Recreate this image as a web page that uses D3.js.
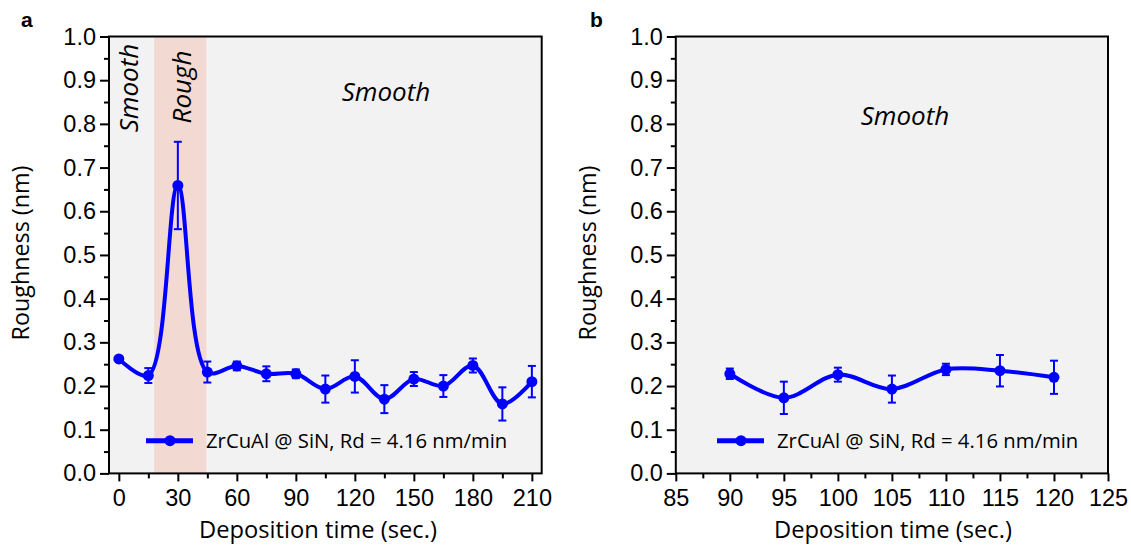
<!DOCTYPE html>
<html>
<head>
<meta charset="utf-8">
<script src="https://cdn.jsdelivr.net/npm/d3@7"></script>
<style>
  body { margin: 0; background: #fff; }
  .tick text { font-family: "Liberation Sans", Arial, sans-serif; }
</style>
</head>
<body>
<div id="chart"></div>
<script>
// panel a
var timeA = [0, 15, 30, 45, 60, 75, 90, 105, 120, 135, 150, 165, 180, 195, 210];
var roughA = [0.262, 0.224, 0.659, 0.232, 0.246, 0.228, 0.228, 0.193, 0.222, 0.170, 0.216, 0.200, 0.247, 0.159, 0.210];
var errA = [0, 0.017, 0.100, 0.024, 0.010, 0.017, 0.010, 0.031, 0.037, 0.032, 0.016, 0.025, 0.016, 0.038, 0.036];
var xTicksA = [0, 30, 60, 90, 120, 150, 180, 210];
var roughBand = [18, 44.5];

// panel b
var timeB = [90, 95, 100, 105, 110, 115, 120];
var roughB = [0.228, 0.173, 0.226, 0.193, 0.238, 0.235, 0.220];
var errB = [0.012, 0.037, 0.016, 0.031, 0.013, 0.036, 0.038];
var xTicksB = [85, 90, 95, 100, 105, 110, 115, 120, 125];

var yTicks = [0, 0.1, 0.2, 0.3, 0.4, 0.5, 0.6, 0.7, 0.8, 0.9, 1.0];
var seriesName = "ZrCuAl @ SiN, Rd = 4.16 nm/min";

var blue = "#0000ff",
    textFont = "'Open Sans', 'Noto Sans', sans-serif";

var svg = d3.select("#chart").append("svg")
    .attr("width", 1131)
    .attr("height", 545);

function panel(opt) {
    var x = d3.scaleLinear().domain(opt.xDomain).range([opt.left, opt.right]);
    var y = d3.scaleLinear().domain([0, 1]).range([473.4, 36.5]);
    var g = svg.append("g");

    g.append("rect")
        .attr("x", opt.left).attr("y", y(1))
        .attr("width", opt.right - opt.left).attr("height", y(0) - y(1))
        .attr("fill", "#f2f2f2");

    if (opt.band) {
        g.append("rect")
            .attr("x", x(opt.band[0])).attr("y", y(1))
            .attr("width", x(opt.band[1]) - x(opt.band[0]))
            .attr("height", y(0) - y(1))
            .attr("fill", "#f2d9d2");
    }

    // minor ticks
    g.append("g")
        .attr("transform", "translate(" + opt.left + ",0)")
        .call(d3.axisLeft(y).tickValues(d3.range(0.05, 1, 0.1)).tickSize(5).tickFormat(""))
        .call(function(a) { a.select(".domain").remove(); a.selectAll("line").attr("stroke-width", 2); });
    g.append("g")
        .attr("transform", "translate(0," + y(0) + ")")
        .call(d3.axisBottom(x).tickValues(opt.xMinor).tickSize(5).tickFormat(""))
        .call(function(a) { a.select(".domain").remove(); a.selectAll("line").attr("stroke-width", 2); });

    // major ticks
    g.append("g")
        .attr("transform", "translate(" + opt.left + ",0)")
        .call(d3.axisLeft(y).tickValues(yTicks).tickSize(9).tickPadding(4).tickFormat(d3.format(".1f")))
        .call(function(a) {
            a.select(".domain").remove();
            a.selectAll("line").attr("stroke-width", 2);
            a.selectAll("text").attr("font-size", 23.5).attr("fill", "#000");
        });
    g.append("g")
        .attr("transform", "translate(0," + y(0) + ")")
        .call(d3.axisBottom(x).tickValues(opt.xTicks).tickSize(8).tickPadding(8))
        .call(function(a) {
            a.select(".domain").remove();
            a.selectAll("line").attr("stroke-width", 2);
            a.selectAll("text").attr("font-size", 23.5).attr("fill", "#000");
        });

    g.append("rect")
        .attr("x", opt.left).attr("y", y(1))
        .attr("width", opt.right - opt.left).attr("height", y(0) - y(1))
        .attr("fill", "none").attr("stroke", "#000").attr("stroke-width", 2);

    var data = opt.t.map(function(t, i) { return {t: t, v: opt.v[i], e: opt.e[i]}; });

    var line = d3.line()
        .curve(d3.curveCatmullRom)
        .x(function(d) { return x(d.t); })
        .y(function(d) { return y(d.v); });

    g.append("path")
        .datum(data)
        .attr("fill", "none")
        .attr("stroke", blue)
        .attr("stroke-width", 4)
        .attr("d", line);

    var eb = g.selectAll(".err").data(data.filter(function(d) { return d.e > 0; }))
        .enter().append("g").attr("stroke", blue).attr("stroke-width", 2);
    eb.append("line")
        .attr("x1", function(d) { return x(d.t); }).attr("x2", function(d) { return x(d.t); })
        .attr("y1", function(d) { return y(d.v + d.e); }).attr("y2", function(d) { return y(d.v - d.e); });
    eb.append("line")
        .attr("x1", function(d) { return x(d.t) - 4; }).attr("x2", function(d) { return x(d.t) + 4; })
        .attr("y1", function(d) { return y(d.v + d.e); }).attr("y2", function(d) { return y(d.v + d.e); });
    eb.append("line")
        .attr("x1", function(d) { return x(d.t) - 4; }).attr("x2", function(d) { return x(d.t) + 4; })
        .attr("y1", function(d) { return y(d.v - d.e); }).attr("y2", function(d) { return y(d.v - d.e); });

    g.selectAll(".pt").data(data).enter().append("circle")
        .attr("cx", function(d) { return x(d.t); })
        .attr("cy", function(d) { return y(d.v); })
        .attr("r", 5.5)
        .attr("fill", blue);

    // legend
    var lg = g.append("g").attr("transform", "translate(" + opt.legendX + ",440.7)");
    lg.append("line").attr("x1", 0).attr("x2", 47).attr("stroke", blue).attr("stroke-width", 5);
    lg.append("circle").attr("cx", 24).attr("r", 5.5).attr("fill", blue);
    lg.append("text")
        .attr("x", 60).attr("dy", "0.36em")
        .attr("font-family", textFont).attr("font-size", 20.3)
        .text(seriesName);

    // axis titles
    g.append("text")
        .attr("transform", "translate(" + (opt.left - 80) + "," + 253 + ")rotate(-90)")
        .attr("text-anchor", "middle")
        .attr("font-family", textFont).attr("font-size", 23.3)
        .text("Roughness (nm)");
    g.append("text")
        .attr("x", opt.titleX).attr("y", 538)
        .attr("text-anchor", "middle")
        .attr("font-family", textFont).attr("font-size", 23.7)
        .text("Deposition time (sec.)");

    g.append("text")
        .attr("x", opt.letterX).attr("y", 27)
        .attr("font-family", "'Liberation Sans', Arial, sans-serif")
        .attr("font-weight", "bold").attr("font-size", 21)
        .text(opt.letter);

    return g;
}

var ga = panel({
    left: 109, right: 541.7, xDomain: [-5, 215],
    xTicks: xTicksA, xMinor: d3.range(15, 211, 30),
    t: timeA, v: roughA, e: errA, band: roughBand,
    legendX: 146, titleX: 318, letterX: 21, letter: "a"
});

function italic(g, x, y, rot, txt) {
    g.append("text")
        .attr("transform", "translate(" + x + "," + y + ")" + (rot ? "rotate(-90)" : ""))
        .attr("text-anchor", "middle")
        .attr("font-family", textFont).attr("font-style", "italic").attr("font-size", 26)
        .text(txt);
}

italic(ga, 386, 101, false, "Smooth");
italic(ga, 138, 88, true, "Smooth");
italic(ga, 191, 87, true, "Rough");

var gb = panel({
    left: 675.8, right: 1108, xDomain: [85, 125],
    xTicks: xTicksB, xMinor: d3.range(87.5, 125, 5),
    t: timeB, v: roughB, e: errB,
    legendX: 717, titleX: 893, letterX: 590, letter: "b"
});

italic(gb, 905, 125, false, "Smooth");
</script>
</body>
</html>
